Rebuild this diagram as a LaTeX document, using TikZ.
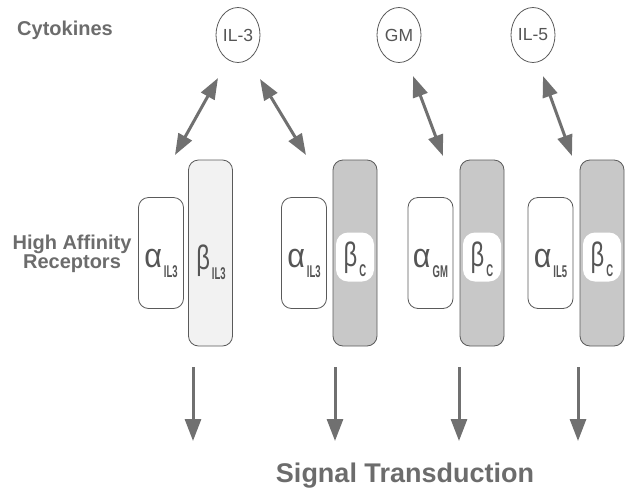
\documentclass[tikz,border=0pt]{standalone}
\usepackage{fontspec}
\setmainfont{Liberation Sans}
\usetikzlibrary{arrows.meta,shapes.geometric}
\definecolor{txt}{RGB}{108,108,108}
\definecolor{dtxt}{RGB}{85,85,85}
\definecolor{edgec}{RGB}{90,90,90}
\definecolor{arr}{RGB}{112,112,112}
\definecolor{bcfill}{RGB}{200,200,200}
\definecolor{bilfill}{RGB}{242,242,242}
\newcommand{\grk}[3]{\scalebox{#3}[1]{\fontsize{34}{34}\selectfont #1}\hspace{2pt}\raisebox{-10pt}{\scalebox{0.56}[1]{\fontsize{17}{17}\selectfont\bfseries #2}}}
\begin{document}
\begin{tikzpicture}[x=1pt,y=-1pt,
  heading/.style={font=\fontsize{20}{17}\selectfont\bfseries, text=txt, align=center, inner sep=0},
  cyto/.style={ellipse, draw=edgec, line width=0.8pt, minimum width=44pt, minimum height=55pt, inner sep=0, text=dtxt, font=\fontsize{17.5}{17.5}\selectfont},
  alphabox/.style={draw=edgec, line width=0.8pt, rounded corners=10pt, minimum width=45pt, minimum height=111pt, inner sep=0, fill=white},
  betail/.style={draw=edgec, line width=0.8pt, rounded corners=10pt, minimum width=44pt, minimum height=186pt, inner sep=0, fill=bilfill},
  betac/.style={draw=edgec, line width=0.8pt, rounded corners=10pt, minimum width=44pt, minimum height=186pt, inner sep=0, fill=bcfill},
  inset/.style={fill=white, rounded corners=12pt, minimum width=38pt, minimum height=49pt, inner sep=0},
  glab/.style={text=dtxt, inner sep=0, anchor=base},
  darr/.style={draw=arr, line width=3pt, {Triangle[length=21pt,width=15pt]}-{Triangle[length=21pt,width=15pt]}},
  sarr/.style={draw=arr, line width=3pt, -{Triangle[length=22pt,width=16pt]}}
]
\useasboundingbox (0,0) rectangle (627,496);

% headings
\node[heading] (cyt) at (65,30) {Cytokines};
\node[heading] (har) at (72,254) {High Affinity\\Receptors};
\node[heading, font=\fontsize{27}{27}\selectfont\bfseries] (sig) at (405,476) {Signal Transduction};

% cytokines
\node[cyto] (il3) at (238,35) {IL-3};
\node[cyto] (gm) at (399,35) {GM};
\node[cyto] (il5) at (533,35) {IL-5};

% receptors
\node[alphabox] (a1) at (161,253) {};
\node[betail] (b1) at (210.5,253) {};
\node[alphabox] (a2) at (304,253) {};
\node[betac] (b2) at (355,253) {};
\node[inset] (i2) at (355,257) {};
\node[alphabox] (a3) at (430.5,253) {};
\node[betac] (b3) at (482,253) {};
\node[inset] (i3) at (482,257) {};
\node[alphabox] (a4) at (550.5,253) {};
\node[betac] (b4) at (602,253) {};
\node[inset] (i4) at (602,257) {};

% receptor labels
\node[glab] (la1) at (161,267) {\grk{α}{IL3}{0.9}};
\node[glab] (lb1) at (211,269) {\grk{β}{IL3}{0.7}};
\node[glab] (la2) at (304,267) {\grk{α}{IL3}{0.9}};
\node[glab] (lb2) at (355,266) {\grk{β}{C}{0.7}};
\node[glab] (la3) at (430.5,267) {\grk{α}{GM}{0.9}};
\node[glab] (lb3) at (482,266) {\grk{β}{C}{0.7}};
\node[glab] (la4) at (550.5,267) {\grk{α}{IL5}{0.9}};
\node[glab] (lb4) at (602,266) {\grk{β}{C}{0.7}};

% binding arrows
\coordinate (p1) at (218,78);  \coordinate (q1) at (175,155);
\coordinate (p2) at (260,79);  \coordinate (q2) at (306,155);
\coordinate (p3) at (413,76);  \coordinate (q3) at (443,156);
\coordinate (p4) at (543,76);  \coordinate (q4) at (572,156);
\draw[darr] (p1) -- (q1);
\draw[darr] (p2) -- (q2);
\draw[darr] (p3) -- (q3);
\draw[darr] (p4) -- (q4);

% signal arrows
\coordinate (s1) at (193,367); \coordinate (e1) at (193,441);
\coordinate (s2) at (335,367); \coordinate (e2) at (335,441);
\coordinate (s3) at (459,367); \coordinate (e3) at (459,441);
\coordinate (s4) at (578,367); \coordinate (e4) at (578,441);
\draw[sarr] (s1) -- (e1);
\draw[sarr] (s2) -- (e2);
\draw[sarr] (s3) -- (e3);
\draw[sarr] (s4) -- (e4);
\end{tikzpicture}
\end{document}
